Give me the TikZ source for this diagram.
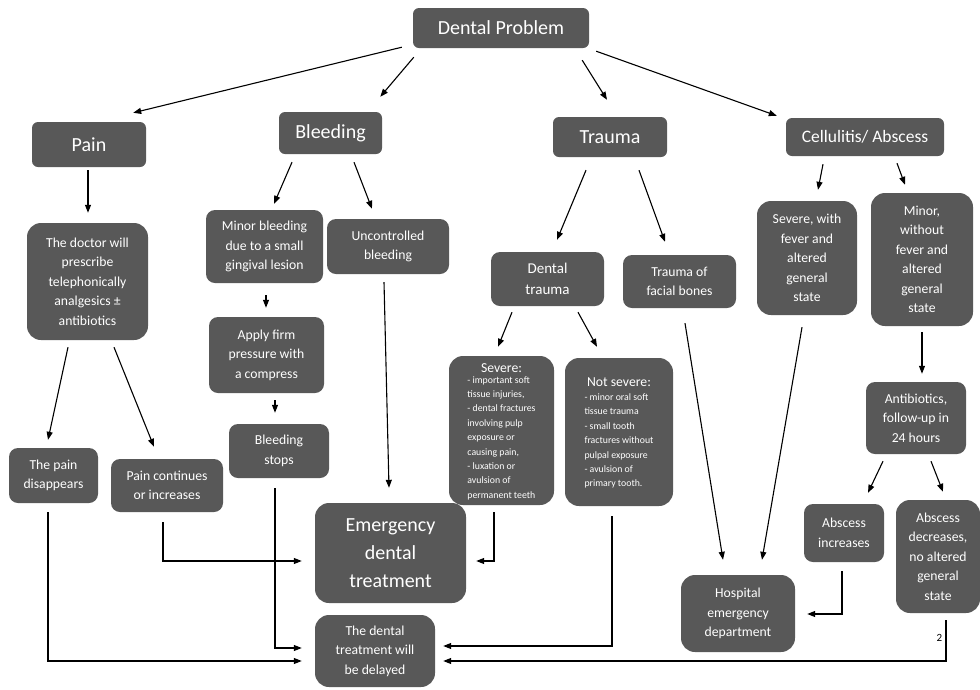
\documentclass[tikz,border=0pt]{standalone}
\usepackage{fontspec}
\setmainfont{Carlito}
\usetikzlibrary{positioning,arrows.meta}
\definecolor{boxgray}{RGB}{88,88,88}
\newcommand\detfont{\fontsize{9.8}{14.4}\selectfont}
\tikzset{
  blk/.style={rectangle,fill=boxgray,text=white,rounded corners=9pt,align=center,inner sep=0pt},
  head/.style={blk,rounded corners=6pt,font=\fontsize{20}{23}\selectfont},
  txt/.style={blk,font=\fontsize{13.7}{19.5}\selectfont},
  flow/.style={-{Triangle[length=8pt,width=6pt]},line width=1.1pt},
}

\begin{document}
\begin{tikzpicture}[x=1pt,y=-1pt]
  \useasboundingbox (0,0) rectangle (980,689);
  \node[head,minimum width=176pt,minimum height=40pt] (dp) at (501,28) {Dental Problem};
  \node[head,minimum width=114pt,minimum height=45pt] (pain) at (89,144.5) {Pain};
  \node[head,minimum width=103pt,minimum height=42pt] (bleed) at (330.5,133) {Bleeding};
  \node[head,minimum width=114pt,minimum height=40pt] (trauma) at (610,137) {Trauma};
  \node[head,font=\fontsize{17.5}{21}\selectfont,minimum width=158pt,minimum height=38pt] (cell) at (865,137) {Cellulitis/ Abscess};

  \node[txt,rounded corners=14pt,minimum width=121pt,minimum height=117pt] (doctor) at (87.5,281.5)
    {The doctor will\\prescribe\\telephonically\\analgesics ±\\antibiotics};
  \node[txt,minimum width=117pt,minimum height=73pt] (minor) at (264.5,246.5) {Minor bleeding\\due to a small\\gingival lesion};
  \node[txt,minimum width=122pt,minimum height=55pt] (unc) at (388,246.5) {Uncontrolled\\bleeding};
  \node[txt,minimum width=115pt,minimum height=76pt] (apply) at (266.5,355) {Apply firm\\pressure with\\a compress};
  \node[txt,minimum width=100pt,minimum height=54pt] (stops) at (279,451) {Bleeding\\stops};
  \node[txt,minimum width=89pt,minimum height=55pt] (disapp) at (53.5,475.5) {The pain\\disappears};
  \node[txt,minimum width=112pt,minimum height=53pt] (contin) at (167,485.5) {Pain continues\\or increases};

  \node[txt,font=\fontsize{15}{21}\selectfont,minimum width=113pt,minimum height=54pt] (dtrauma) at (547.5,279) {Dental\\trauma};
  \node[txt,minimum width=113pt,minimum height=53pt] (facial) at (679.5,281.5) {Trauma of\\facial bones};
  \node[txt,rounded corners=14pt,minimum width=105pt,minimum height=149pt] (severe) at (501.5,430.5)
    {\begin{tabular}{@{}c@{}}Severe:\\[-5pt]{\detfont\begin{tabular}{@{}l@{}}
      - important soft\\ tissue injuries,\\ - dental fractures\\ involving pulp\\ exposure or\\
      causing pain,\\ - luxation or\\ avulsion of\\ permanent teeth\end{tabular}}\end{tabular}};
  \node[txt,rounded corners=14pt,minimum width=108pt,minimum height=148pt] (notsev) at (619,432)
    {\begin{tabular}{@{}c@{}}Not severe:\\[-2pt]{\detfont\begin{tabular}{@{}l@{}}
      - minor oral soft\\ tissue trauma\\ - small tooth\\ fractures without\\ pulpal exposure\\
      - avulsion of\\ primary tooth.\end{tabular}}\\[12pt]\end{tabular}};

  \node[txt,rounded corners=14pt,minimum width=100pt,minimum height=114pt] (sevfev) at (807,258) {Severe, with\\fever and\\altered\\general\\state};
  \node[txt,rounded corners=14pt,minimum width=102pt,minimum height=133pt] (minfev) at (922,259.5) {Minor,\\without\\fever and\\altered\\general\\state};
  \node[txt,minimum width=100pt,minimum height=72pt] (antib) at (916,418) {Antibiotics,\\follow-up in\\24 hours};
  \node[txt,minimum width=80pt,minimum height=58pt] (absinc) at (844,533) {Abscess\\increases};
  \node[txt,rounded corners=14pt,minimum width=84pt,minimum height=113pt] (absdec) at (938,556.5) {Abscess\\decreases,\\no altered\\general\\state};
  \node[txt,rounded corners=14pt,minimum width=114pt,minimum height=77pt] (hosp) at (738,613.5) {Hospital\\emergency\\department};

  \node[txt,rounded corners=14pt,font=\fontsize{20}{28}\selectfont,minimum width=151pt,minimum height=100pt] (emerg) at (390.5,553) {Emergency\\dental\\treatment};
  \node[txt,rounded corners=14pt,minimum width=120pt,minimum height=72pt] (delay) at (375,651) {The dental\\treatment will\\be delayed};

  \draw[flow] ([shift={(-11,-1)}]dp.south west) -- ([shift={(-13,-9)}]pain.north east);
  \draw[flow] ([shift={(1,9)}]dp.south west) -- ([shift={(-2,-15)}]bleed.north east);
  \draw[flow] ([shift={(-7,12)}]dp.south east) -- ([shift={(-3,-17)}]trauma.north);
  \draw[flow] ([shift={(7,3)}]dp.south east) -- ([shift={(-9,-2)}]cell.north west);

  \draw[flow] ([shift={(-1,3)}]pain.south) -- ([shift={(0.5,-10)}]doctor.north);
  \draw[flow] ([shift={(-38.5,8)}]bleed.south) -- ([shift={(9.5,-6)}]minor.north);
  \draw[flow] ([shift={(23.5,8)}]bleed.south) -- ([shift={(-16,-10)}]unc.north);
  \draw[flow] ([shift={(-24,13)}]trauma.south) -- ([shift={(9.5,-12)}]dtrauma.north);
  \draw[flow] ([shift={(29,13)}]trauma.south) -- ([shift={(-14.5,-13)}]facial.north);
  \draw[flow] ([shift={(-42,8)}]cell.south) -- ([shift={(11,-11)}]sevfev.north);
  \draw[flow] ([shift={(32,7)}]cell.south) -- ([shift={(-17,-8)}]minfev.north);

  \draw[flow] ([shift={(-19.5,7)}]doctor.south) -- ([shift={(-5.5,-8)}]disapp.north);
  \draw[flow] ([shift={(26.5,7)}]doctor.south) -- ([shift={(-13,-12)}]contin.north);
  \draw[flow] ([shift={(1.5,12)}]minor.south) -- ([shift={(-0.5,-9)}]apply.north);
  \draw[flow] ([shift={(8.5,7)}]apply.south) -- ([shift={(-4,-11)}]stops.north);
  \draw[flow] ([shift={(-4,8)}]unc.south) -- ([shift={(-1.5,-15)}]emerg.north);
  \draw[flow] ([shift={(-35.5,6)}]dtrauma.south) -- ([shift={(-3.5,-9)}]severe.north);
  \draw[flow] ([shift={(30.5,6)}]dtrauma.south) -- ([shift={(-22,-11)}]notsev.north);
  \draw[flow] ([shift={(5.5,15)}]facial.south) -- ([shift={(-15,-15)}]hosp.north);
  \draw[flow] ([shift={(-5,12)}]sevfev.south) -- ([shift={(24,-15)}]hosp.north);
  \draw[flow] ([shift={(0,6)}]minfev.south) -- ([shift={(6,-8)}]antib.north);
  \draw[flow] ([shift={(-33,7)}]antib.south) -- ([shift={(24,-11)}]absinc.north);
  \draw[flow] ([shift={(15,7)}]antib.south) -- ([shift={(5,-8)}]absdec.north);

  \draw[flow] ([shift={(-2,9)}]absinc.south) |- ([shift={(12,0.5)}]hosp.east);
  \draw[flow] ([shift={(-5.5,9)}]disapp.south) |- ([shift={(-13,10)}]delay.west);
  \draw[flow] ([shift={(-4,10)}]contin.south) |- ([shift={(-13,8)}]emerg.west);
  \draw[flow] ([shift={(-4,10)}]stops.south) |- ([shift={(-13,-3)}]delay.west);
  \draw[flow] ([shift={(-7,10)}]notsev.south) |- ([shift={(8,-5)}]delay.east);
  \draw[flow] ([shift={(8,7)}]absdec.south) |- node[pos=0.22,left,font=\fontsize{11}{13}\selectfont]{2} ([shift={(8,10)}]delay.east);
  \draw[flow] ([shift={(-7.5,7)}]severe.south) |- ([shift={(10,8)}]emerg.east);
\end{tikzpicture}
\end{document}
